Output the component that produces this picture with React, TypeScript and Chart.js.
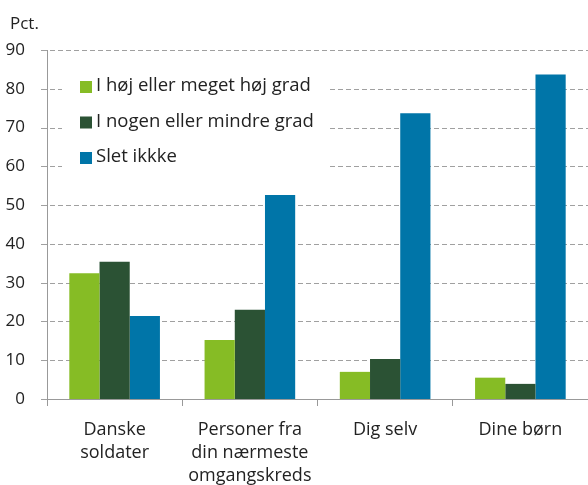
import React, { useEffect, useRef } from "react";
import { Chart, registerables } from "chart.js";

Chart.register(...registerables);

const categories: string[][] = [
  ["Danske", "soldater"],
  ["Personer fra", "din nærmeste", "omgangskreds"],
  ["Dig selv"],
  ["Dine børn"],
];
const seriesNames = ["I høj eller meget høj grad", "I nogen eller mindre grad", "Slet ikkke"];
const highValues = [32.4, 15.2, 7.0, 5.5];
const someValues = [35.4, 23.0, 10.3, 3.9];
const notValues = [21.4, 52.6, 73.7, 83.7];
const colors = ["#86BC25", "#2B5234", "#0075A8"];
const yTicks = [0, 10, 20, 30, 40, 50, 60, 70, 80, 90];
const unitLabel = "Pct.";

const FONT = "'Open Sans', 'Noto Sans', sans-serif";

export default function App() {
  const ref = useRef<HTMLCanvasElement>(null);

  useEffect(() => {
    document.body.style.margin = "0";
    const canvas = ref.current!;
    const overlay = {
      id: "overlay",
      beforeDatasetsDraw(chart: any) {
        const ctx = chart.ctx as CanvasRenderingContext2D;
        const y = chart.scales.y;
        const area = chart.chartArea;
        ctx.save();
        yTicks.forEach((v) => {
          const py = Math.round(y.getPixelForValue(v)) + 0.5;
          ctx.strokeStyle = "#a0a0a0";
          ctx.lineWidth = 1;
          ctx.setLineDash([]);
          ctx.beginPath();
          ctx.moveTo(area.left - 6, py);
          ctx.lineTo(area.left, py);
          ctx.stroke();
          if (v !== 0) {
            ctx.setLineDash([5, 3]);
            ctx.beginPath();
            ctx.moveTo(area.left + 3, py);
            ctx.lineTo(area.right, py);
            ctx.stroke();
          }
        });
        ctx.setLineDash([]);
        ctx.fillStyle = "#ffffff";
        ctx.fillRect(62, 62, 265, 113);
        ctx.font = `18.5px ${FONT}`;
        ctx.textBaseline = "alphabetic";
        ctx.textAlign = "left";
        const baselines = [91, 126.5, 162];
        seriesNames.forEach((name, i) => {
          ctx.fillStyle = colors[i];
          ctx.fillRect(80, baselines[i] - 10, 12, 12);
          ctx.fillStyle = "#222222";
          ctx.fillText(name, 96, baselines[i]);
        });
        ctx.restore();
      },
      afterDraw(chart: any) {
        const ctx = chart.ctx as CanvasRenderingContext2D;
        ctx.save();
        ctx.font = `17px ${FONT}`;
        ctx.fillStyle = "#222222";
        ctx.textBaseline = "alphabetic";
        ctx.textAlign = "left";
        ctx.fillText(unitLabel, 10, 29);
        ctx.restore();
      },
    };

    const chart = new Chart(canvas, {
      type: "bar",
      data: {
        labels: categories as any,
        datasets: [
          { label: seriesNames[0], data: highValues, backgroundColor: colors[0] },
          { label: seriesNames[1], data: someValues, backgroundColor: colors[1] },
          { label: seriesNames[2], data: notValues, backgroundColor: colors[2] },
        ],
      },
      options: {
        animation: false,
        responsive: false,
        maintainAspectRatio: false,
        layout: { padding: { top: 50, right: 0, left: 0, bottom: 0 } },
        datasets: { bar: { categoryPercentage: 0.67, barPercentage: 1.0, borderWidth: 0 } } as any,
        plugins: { legend: { display: false }, tooltip: { enabled: false } },
        scales: {
          x: {
            offset: true,
            afterFit(scale: any) {
              scale.height = 86;
            },
            grid: {
              display: true,
              offset: true,
              drawOnChartArea: false,
              drawTicks: true,
              tickLength: 7,
              color: "#999999",
            },
            border: { display: true, color: "#999999", width: 1 },
            ticks: {
              color: "#222222",
              font: { family: FONT, size: 18, lineHeight: "23px" as any },
              padding: 12,
              maxRotation: 0,
              autoSkip: false,
            },
          },
          y: {
            min: 0,
            max: 90,
            afterFit(scale: any) {
              scale.width = 47;
            },
            afterBuildTicks(scale: any) {
              scale.ticks = yTicks.map((v) => ({ value: v }));
            },
            grid: { display: false, drawTicks: false, tickLength: 6 },
            border: { display: true, color: "#999999", width: 1 },
            ticks: {
              color: "#222222",
              font: { family: FONT, size: 17 },
              padding: 22,
            },
          },
        },
      },
      plugins: [overlay],
    });

    return () => chart.destroy();
  }, []);

  return (
    <div style={{ position: "relative", width: 588, height: 485 }}>
      <canvas ref={ref} width={588} height={485} style={{ display: "block" }} />
    </div>
  );
}
